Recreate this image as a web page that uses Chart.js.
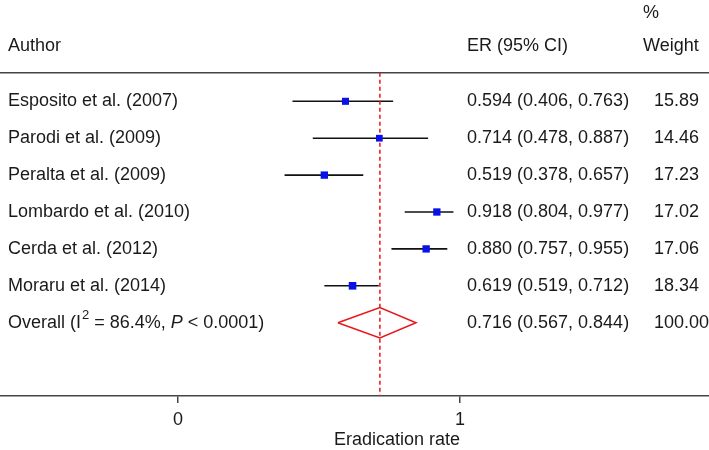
<!DOCTYPE html>
<html>
<head>
<meta charset="utf-8">
<script src="https://cdn.jsdelivr.net/npm/chart.js@4/dist/chart.umd.min.js"></script>
<style>
  html, body { margin: 0; padding: 0; background: #ffffff; }
  #wrap { width: 709px; height: 450px; }
</style>
</head>
<body>
<div id="wrap"><canvas id="c" width="709" height="450"></canvas></div>
<script>
// ---- data ----
const authors = [
  "Esposito et al. (2007)",
  "Parodi et al. (2009)",
  "Peralta et al. (2009)",
  "Lombardo et al. (2010)",
  "Cerda et al. (2012)",
  "Moraru et al. (2014)"
];
const er      = [0.594, 0.714, 0.519, 0.918, 0.880, 0.619];
const ciLow   = [0.406, 0.478, 0.378, 0.804, 0.757, 0.519];
const ciHigh  = [0.763, 0.887, 0.657, 0.977, 0.955, 0.712];
const weights = [15.89, 14.46, 17.23, 17.02, 17.06, 18.34];
const overallEr = 0.716;
const overallLow = 0.567;
const overallHigh = 0.844;
const overallWeight = 100.00;
const overallLabel = { pre: "Overall (I", sup: "2", mid: " = 86.4%, ", ital: "P", post: " < 0.0001)" };
const tickValues = [0, 1];
const xTitle = "Eradication rate";

// ---- layout constants ----
const FONT = "'Liberation Sans', Arial, Helvetica, sans-serif";
const overallRow = authors.length;
const headerLineY = -0.775;
const yMin = -2.745, yMax = 7.986;
const xMin = -0.6312, xMax = 1.8831;
const fmt = v => v.toFixed(3);

Chart.defaults.font.family = FONT;
Chart.defaults.font.size = 18;
Chart.defaults.color = '#1a1a1a';

const datasets = [];

// CI lines
authors.forEach((a, i) => {
  datasets.push({
    type: 'line',
    data: [{x: ciLow[i], y: i}, {x: ciHigh[i], y: i}],
    borderColor: '#111111',
    borderWidth: 1.6,
    pointRadius: 0,
    order: 4
  });
});

// header line
datasets.push({
  type: 'line',
  data: [{x: xMin, y: headerLineY}, {x: xMax, y: headerLineY}],
  borderColor: '#444444',
  borderWidth: 1.6,
  pointRadius: 0,
  order: 5
});

// dashed overall line
datasets.push({
  type: 'line',
  data: [{x: overallEr, y: headerLineY}, {x: overallEr, y: yMax}],
  borderColor: '#e8161b',
  borderWidth: 1.5,
  borderDash: [4, 3],
  pointRadius: 0,
  order: 3
});

// point estimates
datasets.push({
  type: 'scatter',
  data: er.map((v, i) => ({x: v, y: i})),
  pointStyle: 'rect',
  pointRadius: weights.map(w => 7.2 * Math.sqrt(w / 16.5) / Math.SQRT2),
  backgroundColor: '#0a10e8',
  borderColor: '#0a10e8',
  borderWidth: 0,
  order: 1
});

// diamond
const dh = 0.41;
datasets.push({
  type: 'line',
  data: [
    {x: overallLow, y: overallRow},
    {x: overallEr, y: overallRow - dh},
    {x: overallHigh, y: overallRow},
    {x: overallEr, y: overallRow + dh},
    {x: overallLow, y: overallRow}
  ],
  borderColor: '#e8161b',
  borderWidth: 1.5,
  pointRadius: 0,
  tension: 0,
  order: 2
});

const textPlugin = {
  id: 'forestText',
  afterDraw(chart) {
    const ctx = chart.ctx;
    const ys = chart.scales.y;
    ctx.save();
    ctx.fillStyle = '#1a1a1a';
    ctx.textBaseline = 'middle';
    ctx.textAlign = 'left';
    ctx.font = `18px ${FONT}`;
    // headers
    ctx.fillText('%', 643, 13);
    ctx.fillText('Author', 8, 46);
    ctx.fillText('ER (95% CI)', 467, 46);
    ctx.fillText('Weight', 643, 46);
    // rows
    authors.forEach((a, i) => {
      const y = ys.getPixelForValue(i);
      ctx.fillText(a, 8, y);
      ctx.fillText(`${fmt(er[i])} (${fmt(ciLow[i])}, ${fmt(ciHigh[i])})`, 467, y);
      ctx.fillText(weights[i].toFixed(2), 654, y);
    });
    // overall row
    const yo = ys.getPixelForValue(overallRow);
    let x = 8;
    ctx.fillText(overallLabel.pre, x, yo);
    x += ctx.measureText(overallLabel.pre).width + 1;
    ctx.font = `13px ${FONT}`;
    ctx.fillText(overallLabel.sup, x, yo - 7);
    x += ctx.measureText(overallLabel.sup).width;
    ctx.font = `18px ${FONT}`;
    ctx.fillText(overallLabel.mid, x, yo);
    x += ctx.measureText(overallLabel.mid).width;
    ctx.font = `italic 18px ${FONT}`;
    ctx.fillText(overallLabel.ital, x, yo);
    x += ctx.measureText(overallLabel.ital).width;
    ctx.font = `18px ${FONT}`;
    ctx.fillText(overallLabel.post, x, yo);
    ctx.fillText(`${fmt(overallEr)} (${fmt(overallLow)}, ${fmt(overallHigh)})`, 467, yo);
    ctx.fillText(overallWeight.toFixed(2), 654, yo);
    // axis title
    ctx.textAlign = 'center';
    ctx.fillText(xTitle, 397, 440);
    ctx.restore();
  }
};

new Chart(document.getElementById('c'), {
  type: 'scatter',
  data: { datasets },
  options: {
    responsive: false,
    animation: false,
    devicePixelRatio: 1,
    layout: { autoPadding: false, padding: 0 },
    plugins: { legend: { display: false }, tooltip: { enabled: false } },
    scales: {
      x: {
        type: 'linear',
        min: xMin,
        max: xMax,
        afterBuildTicks: s => { s.ticks = tickValues.map(v => ({ value: v })); },
        afterFit: s => { s.height = 54; },
        ticks: { color: '#1a1a1a', padding: 6, font: { size: 18 } },
        grid: { drawOnChartArea: false, drawTicks: true, tickLength: 7, color: '#444444', lineWidth: 1.5 },
        border: { display: true, color: '#444444', width: 1.6 }
      },
      y: {
        type: 'linear',
        display: false,
        reverse: true,
        min: yMin,
        max: yMax
      }
    }
  },
  plugins: [textPlugin]
});
</script>
</body>
</html>
